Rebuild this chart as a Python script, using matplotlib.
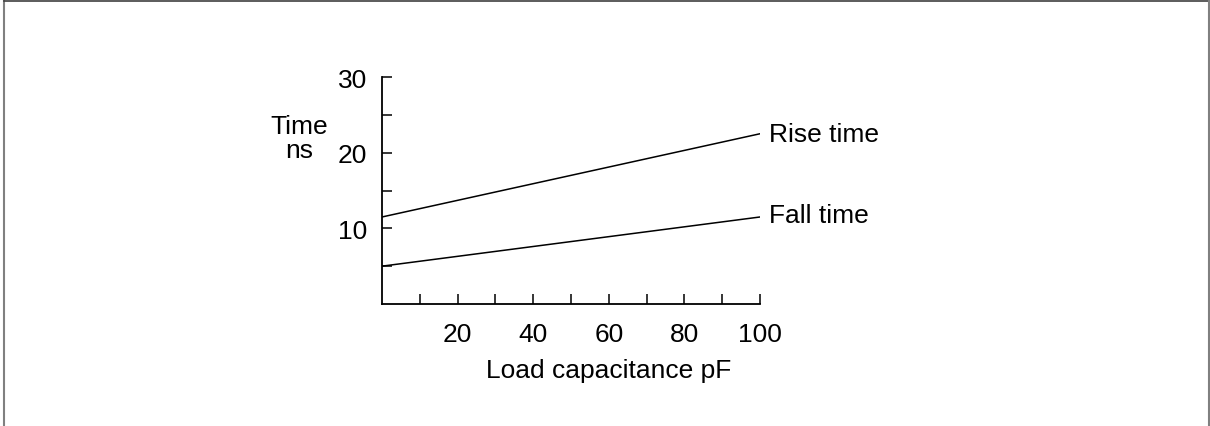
import matplotlib.pyplot as plt
from matplotlib.lines import Line2D

plt.rcParams['font.family'] = ['Liberation Sans', 'DejaVu Sans']

capacitance = [0, 100]
rise_time = [11.5, 22.5]
fall_time = [5.0, 11.5]
x_ticks = [10, 20, 30, 40, 50, 60, 70, 80, 90, 100]
x_labels = ['', '20', '', '40', '', '60', '', '80', '', '100']
y_major = [10, 20, 30]
y_minor = [5, 15, 25]

fs = 19

fig = plt.figure(figsize=(12.1, 4.27), dpi=100)
ax = fig.add_axes([382 / 1210, 1 - 305 / 427, 378 / 1210, 227 / 427])

ax.plot(capacitance, rise_time, color='black', lw=1.1)
ax.plot(capacitance, fall_time, color='black', lw=1.1)

ax.set_xlim(0, 100)
ax.set_ylim(0, 30)
for s in ('top', 'right'):
    ax.spines[s].set_visible(False)
for s in ('left', 'bottom'):
    ax.spines[s].set_linewidth(1.3)

ax.set_xticks(x_ticks)
ax.set_xticklabels(x_labels)
ax.set_yticks(y_major)
ax.set_yticks(y_minor, minor=True)
ax.tick_params(axis='both', which='both', direction='in', length=7.5, width=1.1,
               labelsize=fs)
ax.tick_params(axis='y', pad=10.5)
ax.tick_params(axis='x', pad=13)

# line labels
ax.text(102.5, rise_time[1], 'Rise time', fontsize=fs, va='center', ha='left', clip_on=False)
ax.text(102.5, fall_time[1] + 0.3, 'Fall time', fontsize=fs, va='center', ha='left', clip_on=False)

fig.text(299 / 1210, 1 - 139 / 427, 'Time\nns', fontsize=fs, ha='center', va='center',
         linespacing=1.0)
fig.text(609 / 1210, 1 - 371 / 427, 'Load capacitance pF', fontsize=fs, ha='center', va='center')

# frame around the figure
fig.add_artist(Line2D([3.5 / 1210, 3.5 / 1210], [0, 1 - 1.5 / 427], transform=fig.transFigure,
                      color='#808080', lw=1.5))
fig.add_artist(Line2D([3.5 / 1210, 1208.5 / 1210], [1 - 1.5 / 427, 1 - 1.5 / 427],
                      transform=fig.transFigure, color='#404040', lw=1.2))
fig.add_artist(Line2D([1208.5 / 1210, 1208.5 / 1210], [0, 1 - 1.5 / 427], transform=fig.transFigure,
                      color='#808080', lw=1.5))

fig.savefig('out.png', dpi=100)
